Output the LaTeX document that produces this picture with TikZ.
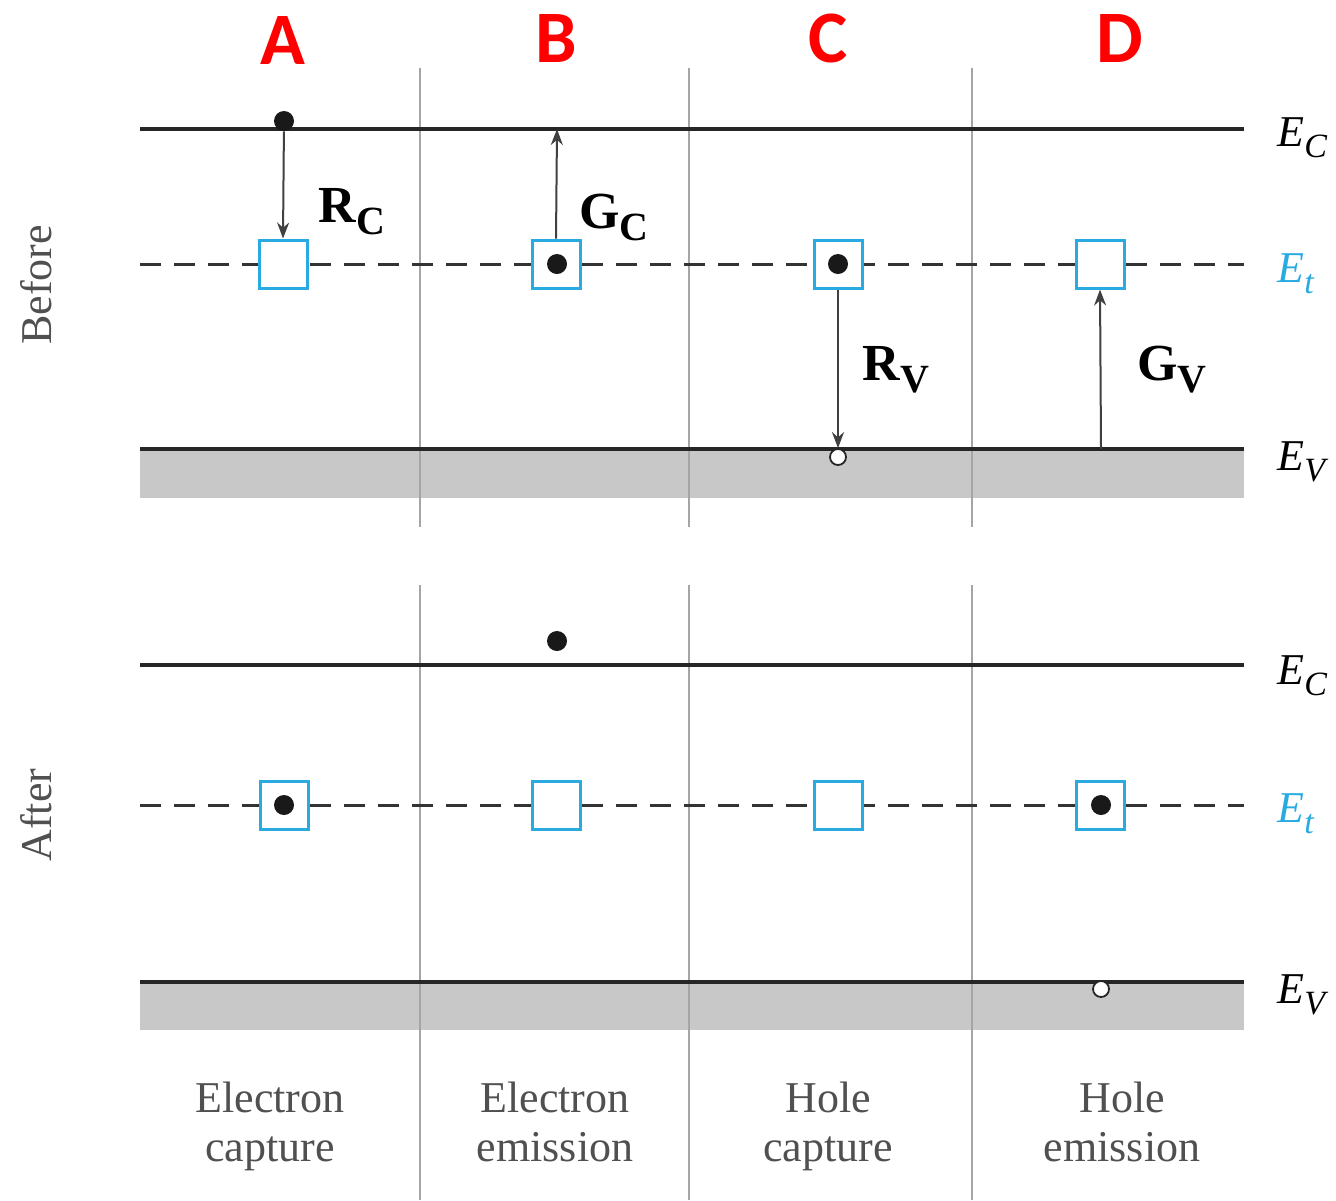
\documentclass[tikz,border=0pt]{standalone}
\usepackage{fontspec}
\setmainfont{Liberation Serif}
\newfontfamily\headfont{Carlito}
\usetikzlibrary{arrows.meta}
\definecolor{trapblue}{RGB}{41,171,226}
\definecolor{captiongray}{RGB}{80,80,80}
\definecolor{divider}{RGB}{165,165,165}
\definecolor{bandfill}{RGB}{200,200,200}
% subscripted level and rate symbols
\newcommand{\lvl}[2]{\textit{E}{\fontsize{17}{17}\selectfont\raisebox{-0.35em}{\textit{#2}}}}
\newcommand{\rate}[2]{\textbf{#1}{\fontsize{20}{20}\selectfont\raisebox{-0.3em}{\textbf{#2}}}}
\begin{document}
\begin{tikzpicture}[x=0.5pt,y=-0.5pt,
  bandline/.style={line width=2.2pt, black!85},
  trapline/.style={line width=1.5pt, dash pattern=on 10.5pt off 6.5pt, black!80},
  divline/.style={line width=0.9pt, divider},
  trapbox/.style={draw=trapblue, line width=1.5pt, fill=white, minimum size=24pt, inner sep=0pt},
  electron/.style={circle, fill=black!90, minimum size=10pt, inner sep=0pt},
  hole/.style={circle, draw=black!85, fill=white, line width=0.9pt, minimum size=8pt, inner sep=0pt},
  trans/.style={line width=1pt, black!75, -{Stealth[length=8pt,width=6pt]}},
  ratelabel/.style={font=\fontsize{26}{28}\selectfont, anchor=base west, inner sep=0pt},
  colhead/.style={font=\headfont\bfseries\fontsize{37}{40}\selectfont, text=red, anchor=base, inner sep=0pt},
  levellabel/.style={font=\fontsize{22}{24}\selectfont, anchor=base west, inner sep=0pt},
  sidelabel/.style={font=\fontsize{22}{24}\selectfont, text=captiongray, rotate=90, inner sep=0pt},
  caption/.style={font=\fontsize{22}{24.5}\selectfont, text=captiongray, align=center, anchor=north, inner sep=0pt},
]
\useasboundingbox (0,0) rectangle (1336,1200);

% valence band shading
\fill[bandfill] (140,449) rectangle (1244,498);
\fill[bandfill] (140,982) rectangle (1244,1030);

% column dividers
\foreach \x in {420,689,972} {
  \draw[divline] (\x,68) -- (\x,527);
  \draw[divline] (\x,585) -- (\x,1200);
}

% band edges and trap level, before
\draw[bandline] (140,129) -- (1244,129);
\draw[trapline] (140,264) -- (1244,264);
\draw[bandline] (140,449) -- (1244,449);
% band edges and trap level, after
\draw[bandline] (140,665) -- (1244,665);
\draw[trapline] (140,805) -- (1244,805);
\draw[bandline] (140,982) -- (1244,982);

% column headings
\node[colhead] (hA) at (283,64) {A};
\node[colhead] (hB) at (556,62) {B};
\node[colhead] (hC) at (828,62) {C};
\node[colhead] (hD) at (1120,62) {D};

% trap states, before
\node[trapbox] (bA) at (283,264) {};
\node[trapbox] (bB) at (556,264) {};
\node[trapbox] (bC) at (838,264) {};
\node[trapbox] (bD) at (1100,264) {};
% trap states, after
\node[trapbox] (aA) at (284,805) {};
\node[trapbox] (aB) at (556,805) {};
\node[trapbox] (aC) at (838,805) {};
\node[trapbox] (aD) at (1100,805) {};

% carriers, before
\node[electron] (eA) at (284,121) {};
\node[electron] (eB) at (557,264) {};
\node[electron] (eC) at (838,264) {};
\node[hole] (pC) at (838,457) {};
\coordinate (ecB) at (557,129);
\coordinate (evD) at (1101,449);
% carriers, after
\node[electron] (fA) at (284,805) {};
\node[electron] (fB) at (557,641) {};
\node[electron] (fD) at (1101,805) {};
\node[hole] (qD) at (1101,989) {};

% capture and emission transitions
\draw[trans] (eA) -- (bA.north);
\draw[trans] (bB.north) -- (ecB);
\draw[trans] (bC.south) -- (pC);
\draw[trans] (evD) -- (bD.south);

% rate labels
\node[ratelabel] (rc) at (318,222) {\rate{R}{C}};
\node[ratelabel] (gc) at (579,228) {\rate{G}{C}};
\node[ratelabel] (rv) at (862,380) {\rate{R}{V}};
\node[ratelabel] (gv) at (1137,380) {\rate{G}{V}};

% energy level labels
\node[levellabel] (lc1) at (1277,146) {\lvl{E}{C}};
\node[levellabel, text=trapblue] (lt1) at (1277,282) {\lvl{E}{t}};
\node[levellabel] (lv1) at (1277,470) {\lvl{E}{V}};
\node[levellabel] (lc2) at (1277,684) {\lvl{E}{C}};
\node[levellabel, text=trapblue] (lt2) at (1277,822) {\lvl{E}{t}};
\node[levellabel] (lv2) at (1277,1003) {\lvl{E}{V}};

% row labels
\node[sidelabel] (before) at (36,285) {Before};
\node[sidelabel] (after) at (36,815) {After};

% process names
\node[caption] (cA) at (270,1082) {Electron\\capture};
\node[caption] (cB) at (555,1082) {Electron\\emission};
\node[caption] (cC) at (828,1082) {Hole\\capture};
\node[caption] (cD) at (1122,1082) {Hole\\emission};
\end{tikzpicture}
\end{document}
